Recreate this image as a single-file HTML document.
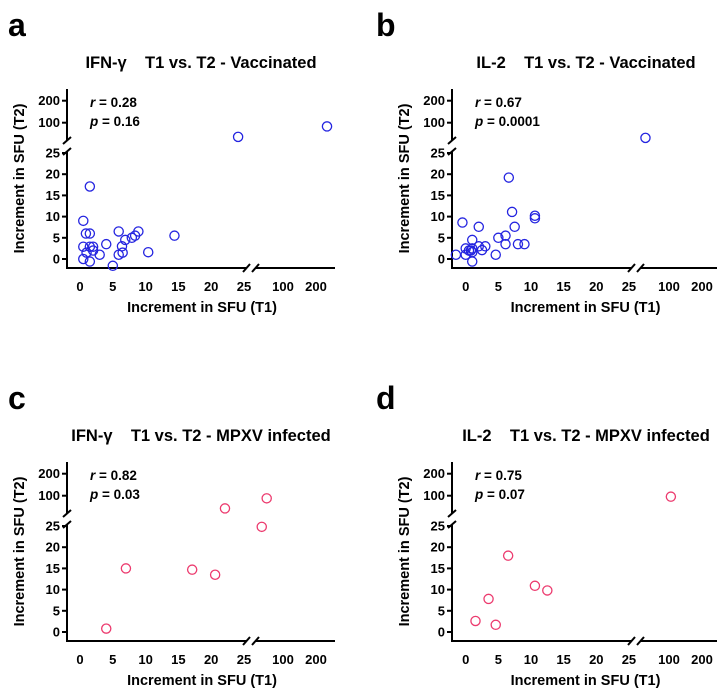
<!DOCTYPE html>
<html><head><meta charset="utf-8">
<style>
body{margin:0;background:#fff;}
svg{display:block;font-family:"Liberation Sans",Arial,sans-serif;font-weight:bold;}
</style></head>
<body>
<svg id="fig" width="728" height="696" viewBox="0 0 728 696"></svg>
<script>
// ---- data (values in SFU increments) ----
const panelIds = ['a','b','c','d'];
const panelTitles = ['IFN-\u03B3\u00A0\u00A0\u00A0\u00A0T1 vs. T2 - Vaccinated','IL-2\u00A0\u00A0\u00A0\u00A0T1 vs. T2 - Vaccinated','IFN-\u03B3\u00A0\u00A0\u00A0\u00A0T1 vs. T2 - MPXV infected','IL-2\u00A0\u00A0\u00A0\u00A0T1 vs. T2 - MPXV infected'];
const rValues = ['0.28','0.67','0.82','0.75'];
const pValues = ['0.16','0.0001','0.03','0.07'];
const aX = [1.5,0.5,0.9,1.5,0.5,1.5,2,2,1,0.5,1.5,3,4,5,5.9,5.9,6.4,6.5,6.9,7.9,8.4,8.9,10.4,14.4,24.1,252];
const aY = [17.1,9,6,6,2.9,2.9,2.9,2,1.5,0,-0.6,1,3.5,-1.6,6.5,1,3,1.5,4.5,5,5.5,6.5,1.6,5.5,64,89];
const bX = [-1.5,-0.5,0,0,0.5,1,1,1,1,0.8,2,2,2.5,3,4.6,5,6.1,6.1,6.6,7.1,7.5,8,9,10.6,10.6,61];
const bY = [1,8.6,2.5,1,2,4.5,2.5,1.6,-0.6,2,7.6,3,2.1,3,1,5,5.5,3.5,19.2,11.1,7.6,3.5,3.5,10.2,9.6,62];
const cX = [4,7,17.1,20.6,22.1,64,71];
const cY = [0.8,15,14.7,13.5,67,24.8,92];
const dX = [1.5,3.5,4.6,6.5,10.6,12.5,104];
const dY = [2.6,7.8,1.7,18,10.9,9.8,97];
const yTickLabels = ['0','5','10','15','20','25','100','200'];
const xTickLabels = ['0','5','10','15','20','25','100','200'];
const yTickValues = [0,5,10,15,20,25,100,200];
const xTickValues = [0,5,10,15,20,25,100,200];

const NS='http://www.w3.org/2000/svg';
const svg=document.getElementById('fig');
function mk(tag,attrs,parent,text){const e=document.createElementNS(NS,tag);for(const k in attrs)e.setAttribute(k,attrs[k]);if(text!==undefined)e.textContent=text;(parent||svg).appendChild(e);return e;}

const geoms=[
 {ox:0,oy:0,ax:67,x0:80,xs:6.56,xLowEnd:247,xUpStart:255,xEnd:335,x100:283,label:[8,36]},
 {ox:0,oy:0,ax:452,x0:465.7,xs:6.53,xLowEnd:632,xUpStart:640,xEnd:717,x100:669,label:[376,36]},
 {ox:0,oy:373,ax:67,x0:80,xs:6.56,xLowEnd:247,xUpStart:255,xEnd:335,x100:283,label:[8,409]},
 {ox:0,oy:373,ax:452,x0:465.7,xs:6.53,xLowEnd:632,xUpStart:640,xEnd:717,x100:669,label:[376,409]}
];
const xsData=[aX,bX,cX,dX], ysData=[aY,bY,cY,dY];
const colors=['#2424e0','#2424e0','#ec3a6e','#ec3a6e'];

geoms.forEach((g,i)=>{
  const oy=g.oy;
  const y0=259+oy, ys=4.24, y100=122.7+oy, yDbl=22, xDbl=33;
  const axisY=268+oy, yTop=89+oy, yUpEnd=141+oy, yLowTop=151+oy;
  const sx=v=> v<=26 ? g.x0+v*g.xs : g.x100+Math.log2(v/100)*xDbl;
  const sy=v=> v<=26 ? y0-v*ys : y100-Math.log2(v/100)*yDbl;
  const grp=mk('g',{});
  
  
  const lt=mk('text',{x:g.label[0],y:g.label[1],'font-size':32},grp,panelIds[i]);
  
  
  const tt=mk('text',{x:g.ax+134,y:68+oy,'font-size':16.5,'text-anchor':'middle'},grp,panelTitles[i]);
  
  
  // axes
  const st={stroke:'#000','stroke-width':2,fill:'none'};
  const ya=mk('g',{},grp);
  
  
  mk('line',Object.assign({x1:g.ax,y1:yTop,x2:g.ax,y2:yUpEnd},st),ya);
  mk('line',Object.assign({x1:g.ax,y1:yLowTop,x2:g.ax,y2:axisY+1},st),ya);
  mk('line',Object.assign({x1:g.ax-4,y1:yUpEnd+3,x2:g.ax+4,y2:yUpEnd-4},st),ya);
  mk('line',Object.assign({x1:g.ax-4,y1:yLowTop+4,x2:g.ax+4,y2:yLowTop-3},st),ya);
  yTickValues.forEach((v,k)=>{
    const y=sy(v);
    mk('line',Object.assign({x1:g.ax-5,y1:y,x2:g.ax,y2:y},st),ya);
    const t=mk('text',{x:g.ax-7,y:y+4.5,'font-size':13,'text-anchor':'end'},ya,yTickLabels[k]);
    
    
  });
  const xa=mk('g',{},grp);
  
  
  mk('line',Object.assign({x1:g.ax-1,y1:axisY,x2:g.xLowEnd,y2:axisY},st),xa);
  mk('line',Object.assign({x1:g.xUpStart,y1:axisY,x2:g.xEnd,y2:axisY},st),xa);
  mk('line',Object.assign({x1:g.xLowEnd-4,y1:axisY+4,x2:g.xLowEnd+3,y2:axisY-4},st),xa);
  mk('line',Object.assign({x1:g.xUpStart-3,y1:axisY+4,x2:g.xUpStart+4,y2:axisY-4},st),xa);
  xTickValues.forEach((v,k)=>{
    const t=mk('text',{x:sx(v),y:axisY+23,'font-size':13,'text-anchor':'middle'},xa,xTickLabels[k]);
    
    
  });
  const xt=mk('text',{x:(g.ax+g.xEnd)/2+1,y:axisY+44,'font-size':14.5,'text-anchor':'middle'},grp,'Increment in SFU (T1)');
  
  
  const ymid=(yTop+axisY)/2;
  const yt=mk('text',{x:0,y:0,'font-size':14.5,'text-anchor':'middle',transform:`translate(${g.ax-43},${ymid}) rotate(-90)`},grp,'Increment in SFU (T2)');
  
  
  // stats
  const s=mk('text',{x:g.ax+23,y:107+oy,'font-size':13.5},grp);
  
  
  mk('tspan',{'font-style':'italic'},s,'r');
  mk('tspan',{},s,' = '+rValues[i]);
  const p=mk('text',{x:g.ax+23,y:126+oy,'font-size':13.5},grp);
  
  
  mk('tspan',{'font-style':'italic'},p,'p');
  mk('tspan',{},p,' = '+pValues[i]);
  // points
  const pts=mk('g',{},grp);
  
  
  xsData[i].forEach((xv,k)=>{
    const c=mk('circle',{cx:sx(xv),cy:sy(ysData[i][k]),r:4.6,fill:'none',stroke:colors[i],'stroke-width':1.3},pts);
    
    
  });
});
</script>
</body></html>
